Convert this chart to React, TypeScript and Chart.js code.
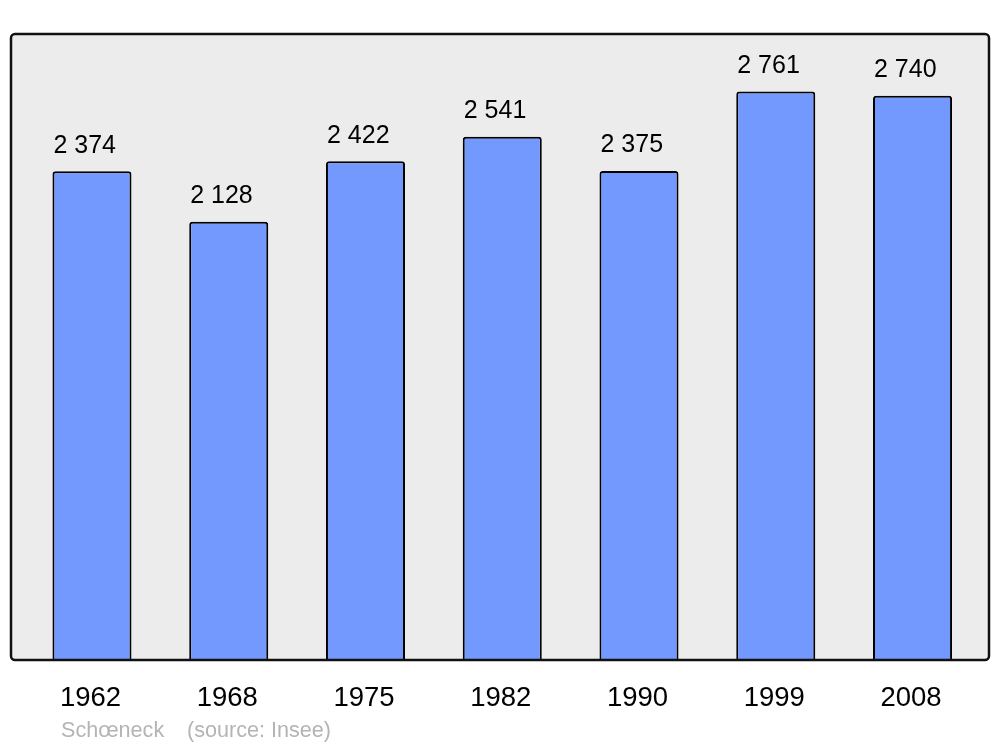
import React, { useEffect, useRef } from "react";
import { Chart, registerables } from "chart.js";

Chart.register(...registerables);

const years: string[] = ["1962", "1968", "1975", "1982", "1990", "1999", "2008"];
const population: number[] = [2374, 2128, 2422, 2541, 2375, 2761, 2740];
const footerName = "Schœneck";
const footerSource = "(source: Insee)";

const fmt = (v: number) => String(v).replace(/\B(?=(\d{3})+(?!\d))/g, " ");

function roundRect(ctx: CanvasRenderingContext2D, x: number, y: number, w: number, h: number, r: number) {
  ctx.beginPath();
  ctx.moveTo(x + r, y);
  ctx.lineTo(x + w - r, y);
  ctx.arcTo(x + w, y, x + w, y + r, r);
  ctx.lineTo(x + w, y + h - r);
  ctx.arcTo(x + w, y + h, x + w - r, y + h, r);
  ctx.lineTo(x + r, y + h);
  ctx.arcTo(x, y + h, x, y + h - r, r);
  ctx.lineTo(x, y + r);
  ctx.arcTo(x, y, x + r, y, r);
  ctx.closePath();
}

const framePlugin = {
  id: "framePlugin",
  beforeDatasetsDraw(chart: any) {
    const { ctx, chartArea } = chart;
    const x0 = chartArea.left - 12.6;
    const x1 = chartArea.right + 8.1;
    ctx.save();
    roundRect(ctx, x0, chartArea.top, x1 - x0, chartArea.bottom - chartArea.top, 4);
    ctx.fillStyle = "#ececec";
    ctx.fill();
    ctx.restore();
  },
  afterDatasetsDraw(chart: any) {
    const { ctx, chartArea } = chart;
    const x0 = chartArea.left - 12.6;
    const x1 = chartArea.right + 8.1;
    ctx.save();
    roundRect(ctx, x0, chartArea.top, x1 - x0, chartArea.bottom - chartArea.top, 4);
    ctx.lineWidth = 2.5;
    ctx.strokeStyle = "#111111";
    ctx.stroke();

    const meta = chart.getDatasetMeta(0);
    ctx.fillStyle = "#000000";
    ctx.font = "25px 'Liberation Sans', Arial, sans-serif";
    ctx.textAlign = "left";
    ctx.textBaseline = "alphabetic";
    meta.data.forEach((bar: any, i: number) => {
      ctx.fillText(fmt(population[i]), bar.x - bar.width / 2 + 1, bar.y - 18.5);
    });

    ctx.font = "27.5px 'Liberation Sans', Arial, sans-serif";
    ctx.textAlign = "center";
    const xs = chart.scales.x;
    years.forEach((y, i) => {
      ctx.fillText(y, xs.getPixelForValue(i) - 1.5, 705.5);
    });

    ctx.font = "21.6px 'Liberation Sans', Arial, sans-serif";
    ctx.fillStyle = "#b4b4b4";
    ctx.textAlign = "left";
    ctx.fillText(footerName, 61, 736.5);
    ctx.fillText(footerSource, 187, 736.5);
    ctx.restore();
  },
};

export default function App() {
  const ref = useRef<HTMLCanvasElement | null>(null);
  useEffect(() => {
    document.body.style.margin = "0";
    if (!ref.current) return;
    const chart = new Chart(ref.current, {
      type: "bar",
      data: {
        labels: years,
        datasets: [
          {
            data: population,
            backgroundColor: "#7399ff",
            borderColor: "#000000",
            borderWidth: 2,
            borderSkipped: "bottom",
            borderRadius: { topLeft: 3, topRight: 3, bottomLeft: 0, bottomRight: 0 },
            barPercentage: 0.578,
            categoryPercentage: 1,
          },
        ],
      },
      options: {
        responsive: false,
        animation: false,
        devicePixelRatio: 1,
        layout: { padding: { left: 23.6, right: 19.1, top: 34, bottom: 87 } },
        plugins: { legend: { display: false }, tooltip: { enabled: false }, title: { display: false } },
        scales: {
          x: { display: false, offset: true },
          y: { display: false, min: 0, max: 3040 },
        },
      },
      plugins: [framePlugin],
    });
    return () => chart.destroy();
  }, []);
  return (
    <div style={{ position: "absolute", left: 0, top: 0, width: 1000, height: 747, background: "#ffffff" }}>
      <canvas ref={ref} width={1000} height={747} style={{ width: 1000, height: 747 }} />
    </div>
  );
}
